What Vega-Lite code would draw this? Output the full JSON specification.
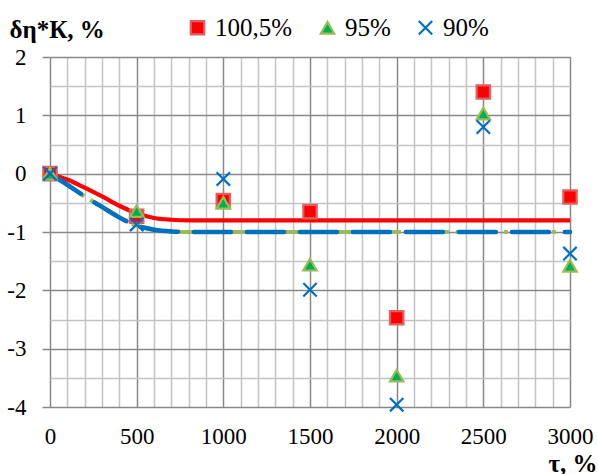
{
  "$schema": "https://vega.github.io/schema/vega-lite/v6.json",
  "width": 520,
  "height": 350,
  "autosize": {"type": "none"},
  "padding": {"left": 50, "top": 57, "right": 28, "bottom": 67},
  "background": "white",
  "config": {
    "view": {"stroke": null},
    "font": "Liberation Serif",
    "style": {"guide-label": {"font": "Liberation Serif"}, "guide-title": {"font": "Liberation Serif"}},
    "axis": {"labelFont": "Liberation Serif", "titleFont": "Liberation Serif"},
    "legend": {"labelFont": "Liberation Serif"}
  },
  "datasets": {
    "pts": [
      {"t": 0, "v": 0, "s": "100,5%"},
      {"t": 500, "v": -0.73, "s": "100,5%"},
      {"t": 1000, "v": -0.46, "s": "100,5%"},
      {"t": 1500, "v": -0.65, "s": "100,5%"},
      {"t": 2000, "v": -2.47, "s": "100,5%"},
      {"t": 2500, "v": 1.4, "s": "100,5%"},
      {"t": 3000, "v": -0.4, "s": "100,5%"},
      {"t": 0, "v": 0, "s": "95%"},
      {"t": 500, "v": -0.64, "s": "95%"},
      {"t": 1000, "v": -0.5, "s": "95%"},
      {"t": 1500, "v": -1.56, "s": "95%"},
      {"t": 2000, "v": -3.46, "s": "95%"},
      {"t": 2500, "v": 1.03, "s": "95%"},
      {"t": 3000, "v": -1.58, "s": "95%"},
      {"t": 0, "v": 0, "s": "90%"},
      {"t": 500, "v": -0.87, "s": "90%"},
      {"t": 1000, "v": -0.09, "s": "90%"},
      {"t": 1500, "v": -1.99, "s": "90%"},
      {"t": 2000, "v": -3.96, "s": "90%"},
      {"t": 2500, "v": 0.8, "s": "90%"},
      {"t": 3000, "v": -1.37, "s": "90%"}
    ],
    "lines": [
      {"t": 0, "v": 0, "s": "100,5%"},
      {"t": 100, "v": -0.1, "s": "100,5%"},
      {"t": 200, "v": -0.24, "s": "100,5%"},
      {"t": 300, "v": -0.39, "s": "100,5%"},
      {"t": 400, "v": -0.55, "s": "100,5%"},
      {"t": 500, "v": -0.68, "s": "100,5%"},
      {"t": 600, "v": -0.76, "s": "100,5%"},
      {"t": 700, "v": -0.79, "s": "100,5%"},
      {"t": 800, "v": -0.8, "s": "100,5%"},
      {"t": 3000, "v": -0.8, "s": "100,5%"},
      {"t": 0, "v": 0, "s": "95%"},
      {"t": 100, "v": -0.19, "s": "95%"},
      {"t": 200, "v": -0.39, "s": "95%"},
      {"t": 300, "v": -0.57, "s": "95%"},
      {"t": 400, "v": -0.75, "s": "95%"},
      {"t": 500, "v": -0.89, "s": "95%"},
      {"t": 600, "v": -0.96, "s": "95%"},
      {"t": 700, "v": -0.99, "s": "95%"},
      {"t": 800, "v": -1.0, "s": "95%"},
      {"t": 3000, "v": -1.0, "s": "95%"},
      {"t": 0, "v": 0, "s": "90%"},
      {"t": 100, "v": -0.19, "s": "90%"},
      {"t": 200, "v": -0.39, "s": "90%"},
      {"t": 300, "v": -0.57, "s": "90%"},
      {"t": 400, "v": -0.75, "s": "90%"},
      {"t": 500, "v": -0.89, "s": "90%"},
      {"t": 600, "v": -0.96, "s": "90%"},
      {"t": 700, "v": -0.99, "s": "90%"},
      {"t": 800, "v": -1.0, "s": "90%"},
      {"t": 3000, "v": -1.0, "s": "90%"}
    ]
  },
  "encoding": {
    "x": {"field": "t", "type": "quantitative", "scale": {"domain": [0, 3000], "nice": false, "zero": false},
      "axis": {"orient": "bottom",
        "values": [0,100,200,300,400,500,600,700,800,900,1000,1100,1200,1300,1400,1500,1600,1700,1800,1900,2000,2100,2200,2300,2400,2500,2600,2700,2800,2900,3000],
        "grid": true, "gridWidth": 1.5,
        "gridColor": {"condition": {"test": "datum.value % 500 === 0", "value": "#888888"}, "value": "#C3C3C3"},
        "ticks": false, "domain": false,
        "labelFont": "Liberation Serif", "labelColor": "black", "labelFontSize": 23, "labelPadding": 18, "labelBaseline": "top",
        "labelFlush": false, "labelOverlap": false,
        "labelExpr": "datum.value % 500 === 0 ? '' + datum.value : ''",
        "title": "τ, %", "titleFont": "Liberation Serif", "titleColor": "black", "titleFontSize": 25, "titleFontWeight": "bold",
        "titleAlign": "right", "titleBaseline": "alphabetic", "titleX": 547, "titleY": 64}},
    "y": {"field": "v", "type": "quantitative", "scale": {"domain": [-4, 2], "nice": false, "zero": false},
      "axis": {"orient": "left",
        "values": [-4,-3.5,-3,-2.5,-2,-1.5,-1,-0.5,0,0.5,1,1.5,2],
        "grid": true, "gridWidth": 1.5,
        "gridColor": {"condition": {"test": "datum.value % 1 === 0", "value": "#888888"}, "value": "#C3C3C3"},
        "ticks": true, "tickSize": 8, "tickWidth": 1.5, "tickColor": "#888888",
        "tickOpacity": {"condition": {"test": "datum.value % 1 === 0", "value": 1}, "value": 0},
        "domain": false,
        "labelFont": "Liberation Serif", "labelColor": "black", "labelFontSize": 23, "labelPadding": 16,
        "labelFlush": false, "labelOverlap": false,
        "labelExpr": "datum.value % 1 === 0 ? '' + datum.value : ''",
        "title": "δη*К, %", "titleFont": "Liberation Serif", "titleColor": "black", "titleFontSize": 25, "titleFontWeight": "bold",
        "titleAngle": 0, "titleAlign": "left", "titleBaseline": "alphabetic", "titleX": -41, "titleY": -20}}
  },
  "layer": [
    {
      "data": {"name": "lines"},
      "transform": [{"filter": "datum.s === '100,5%'"}],
      "mark": {"type": "line", "color": "#FF0000", "strokeWidth": 4.2, "interpolate": "monotone"}
    },
    {
      "data": {"name": "lines"},
      "transform": [{"filter": "datum.s === '95%'"}],
      "mark": {"type": "line", "color": "#9BBB59", "strokeWidth": 4.2, "interpolate": "monotone", "strokeDash": [30, 7, 4, 7]}
    },
    {
      "data": {"name": "lines"},
      "transform": [{"filter": "datum.s === '90%'"}],
      "mark": {"type": "line", "color": "#0070C0", "strokeWidth": 4.5, "interpolate": "monotone", "strokeDash": [37, 16], "strokeCap": "round"}
    },
    {
      "data": {"name": "pts"},
      "mark": {"type": "point", "filled": false, "strokeWidth": 2.2, "size": 180, "opacity": 1},
      "encoding": {
        "shape": {"field": "s", "type": "nominal", "sort": ["100,5%", "95%", "90%"],
          "scale": {"domain": ["100,5%", "95%", "90%"], "range": ["square", "triangle-up", "M-1,-1L1,1M1,-1L-1,1"]},
          "legend": {"title": null, "orient": "none", "direction": "horizontal", "legendX": 135, "legendY": -42,
            "labelFont": "Liberation Serif", "labelFontSize": 25, "labelColor": "black", "labelOffset": 5, "columnPadding": 22,
            "symbolSize": 180, "symbolStrokeWidth": 2.2}},
        "fill": {"field": "s", "type": "nominal", "sort": ["100,5%", "95%", "90%"],
          "scale": {"domain": ["100,5%", "95%", "90%"], "range": ["#FF0000", "#00B050", "transparent"]}},
        "stroke": {"field": "s", "type": "nominal", "sort": ["100,5%", "95%", "90%"],
          "scale": {"domain": ["100,5%", "95%", "90%"], "range": ["#E06060", "#9BBB59", "#0070C0"]}}
      }
    }
  ]
}
